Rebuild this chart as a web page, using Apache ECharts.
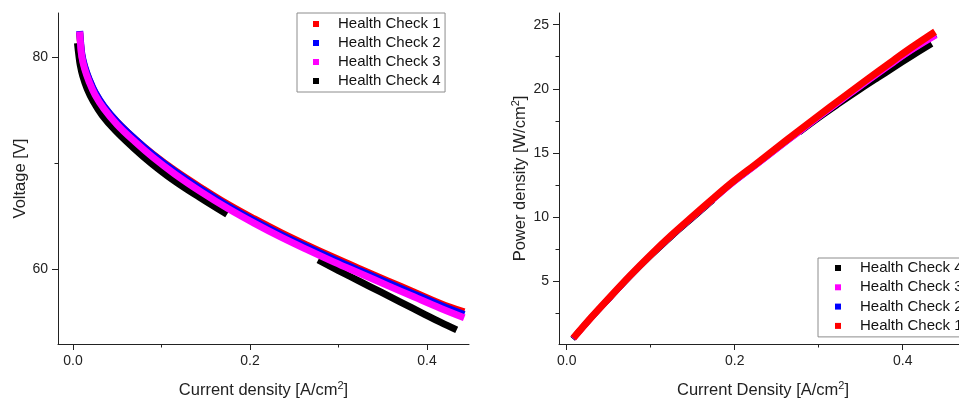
<!DOCTYPE html>
<html>
<head>
<meta charset="utf-8">
<script src="https://cdn.jsdelivr.net/npm/echarts@6/dist/echarts.min.js"></script>
<style>
html,body{margin:0;padding:0;background:#fff;}
#chart{width:959px;height:399px;}
</style>
</head>
<body>
<div id="chart"></div>
<script>
// ---------- Data ----------
var seriesNames = ['Health Check 1', 'Health Check 2', 'Health Check 3', 'Health Check 4'];

// Left panel: Voltage [V] vs current density [A/cm2]
var currentV123 = [0.0075, 0.0085, 0.010, 0.013, 0.018, 0.025, 0.035, 0.050, 0.070, 0.090, 0.115, 0.145, 0.175, 0.205, 0.235, 0.265, 0.295, 0.325, 0.355, 0.385, 0.415, 0.442];
var voltageHC1 = [82.3, 81.2, 80.1, 79.05, 77.9, 76.6, 75.3, 73.85, 72.25, 70.85, 69.3, 67.65, 66.1, 64.72, 63.43, 62.23, 61.08, 59.98, 58.9, 57.83, 56.75, 55.95];
var voltageHC2 = [82.45, 81.4, 80.25, 79.15, 77.95, 76.65, 75.35, 73.85, 72.25, 70.8, 69.2, 67.5, 65.95, 64.55, 63.25, 62.05, 60.9, 59.8, 58.72, 57.65, 56.58, 55.7];
var voltageHC3 = [82.4, 81.2, 80.0, 78.9, 77.7, 76.4, 75.1, 73.6, 72.0, 70.55, 68.95, 67.25, 65.7, 64.3, 63.0, 61.8, 60.65, 59.55, 58.45, 57.37, 56.3, 55.4];
// Health Check 4 has a gap in its data (null marks the break)
var currentV4 = [0.005, 0.0065, 0.008, 0.011, 0.016, 0.023, 0.033, 0.048, 0.068, 0.088, 0.113, 0.143, 0.174, null, 0.277, 0.300, 0.325, 0.347, 0.370, 0.395, 0.415, 0.4335];
var voltageHC4 = [81.3, 80.2, 79.3, 78.2, 77.0, 75.8, 74.5, 73.05, 71.45, 70.0, 68.4, 66.75, 65.15, null, 60.85, 59.85, 58.78, 57.85, 56.88, 55.82, 54.98, 54.25];

// Right panel: Power density [W/cm2] vs current density [A/cm2]
var currentP1 = [0.0079, 0.030, 0.0516, 0.075, 0.0992, 0.125, 0.1508, 0.175, 0.1984, 0.225, 0.250, 0.275, 0.300, 0.325, 0.349, 0.370, 0.389, 0.410, 0.4385];
var powerHC1 = [0.55, 2.22, 3.76, 5.4, 7.0, 8.6, 10.1, 11.48, 12.78, 14.12, 15.4, 16.66, 17.91, 19.14, 20.31, 21.32, 22.22, 23.2, 24.45];
var currentP23 = [0.0079, 0.030, 0.0516, 0.075, 0.0992, 0.125, 0.1508, 0.175, 0.1984, 0.225, 0.250, 0.275, 0.300, 0.325, 0.349, 0.370, 0.389, 0.410, 0.4395];
var powerHC2 = [0.55, 2.21, 3.74, 5.38, 6.97, 8.56, 10.05, 11.42, 12.71, 14.04, 15.31, 16.56, 17.8, 19.02, 20.18, 21.18, 22.06, 23.02, 24.22];
var powerHC3 = [0.52, 2.2, 3.73, 5.37, 6.96, 8.55, 10.04, 11.41, 12.7, 14.03, 15.3, 16.55, 17.78, 19.0, 20.16, 21.15, 22.03, 22.99, 24.17];
var currentP4 = [0.007, 0.030, 0.0516, 0.075, 0.0992, 0.125, 0.1508, 0.174, null, 0.277, 0.300, 0.325, 0.349, 0.370, 0.389, 0.410, 0.4345];
var powerHC4 = [0.5, 2.19, 3.71, 5.34, 6.92, 8.5, 9.98, 11.3, null, 16.6, 17.72, 18.86, 19.92, 20.82, 21.62, 22.5, 23.5];

// Tick values
var xMajorTicks = [0, 0.2, 0.4];
var xMinorTicks = [0.1, 0.3];
var vMajorTicks = [60, 80];
var vMinorTicks = [70];
var pMajorTicks = [5, 10, 15, 20, 25];
var pMinorTicks = [2.5, 7.5, 12.5, 17.5, 22.5];

// ---------- Helpers ----------
function pairs(xs, ys) {
  var out = [];
  for (var i = 0; i < xs.length; i++) {
    out.push(xs[i] === null ? [null, null] : [xs[i], ys[i]]);
  }
  return out;
}
var FONT = 'Liberation Sans, Arial, sans-serif';
var AX = '#222';
var colors = {hc1: '#ff0000', hc2: '#0000ff', hc3: '#ff00ff', hc4: '#000000'};

function mainAxis(gridIndex, pos, min, max, majors, labelFmt, extra) {
  var a = {
    type: 'value', gridIndex: gridIndex, position: pos, min: min, max: max,
    axisLine: {show: true, onZero: false, lineStyle: {color: AX, width: 1}},
    axisTick: {show: true, length: 6, lineStyle: {color: AX, width: 1}, customValues: majors},
    axisLabel: {show: true, customValues: majors, margin: 10, color: AX, fontFamily: FONT, fontSize: 14, formatter: labelFmt},
    splitLine: {show: false}
  };
  for (var k in extra) a[k] = extra[k];
  return a;
}
function minorAxis(gridIndex, pos, min, max, minors) {
  return {
    type: 'value', gridIndex: gridIndex, position: pos, min: min, max: max,
    axisLine: {show: false, onZero: false},
    axisTick: {show: true, length: 3.5, lineStyle: {color: AX, width: 1}, customValues: minors},
    axisLabel: {show: false},
    splitLine: {show: false}
  };
}
var nameRich = {
  a: {fontFamily: FONT, fontSize: 16.5, color: AX, lineHeight: 20},
  s: {fontFamily: FONT, fontSize: 11, color: AX, lineHeight: 12, verticalAlign: 'top'}
};

var lx = [-0.017, 0.4474], ly = [52.92, 84.15];
var rx = [-0.0092, 0.4765], ry = [0.09, 25.91];

function line(name, data, color, xi, yi, z, w) {
  return {
    name: name, type: 'line', xAxisIndex: xi, yAxisIndex: yi, data: data,
    showSymbol: false, smooth: 0.4, connectNulls: false,
    z: z, itemStyle: {color: color},
    lineStyle: {color: color, width: w, cap: 'butt', join: 'round'},
    silent: true
  };
}

function legend(left, top, order, gap, pad) {
  return {
    orient: 'vertical', left: left, top: top, data: order,
    icon: 'rect', itemWidth: 6, itemHeight: 6, itemGap: gap,
    padding: pad, borderColor: '#8c8c8c', borderWidth: 1, backgroundColor: '#fff',
    selectedMode: false,
    textStyle: {fontFamily: FONT, fontSize: 15, color: '#111', lineHeight: 17, padding: [0, 0, 0, 14]}
  };
}

var option = {
  animation: false,
  backgroundColor: '#fff',
  grid: [
    {left: 58, top: 13, width: 411, height: 331, containLabel: false, outerBoundsMode: 'none'},
    {left: 559, top: 13, width: 408, height: 331, containLabel: false, outerBoundsMode: 'none'}
  ],
  xAxis: [
    mainAxis(0, 'bottom', lx[0], lx[1], xMajorTicks, function (v) { return v.toFixed(1); },
      {name: '{a|Current density [A/cm}{s|2}{a|]}', nameLocation: 'middle', nameGap: 36, nameTextStyle: {rich: nameRich}}),
    minorAxis(0, 'bottom', lx[0], lx[1], xMinorTicks),
    mainAxis(1, 'bottom', rx[0], rx[1], xMajorTicks, function (v) { return v.toFixed(1); },
      {name: '{a|Current Density [A/cm}{s|2}{a|]}', nameLocation: 'middle', nameGap: 36, nameTextStyle: {rich: nameRich}}),
    minorAxis(1, 'bottom', rx[0], rx[1], xMinorTicks)
  ],
  yAxis: [
    mainAxis(0, 'left', ly[0], ly[1], vMajorTicks, function (v) { return String(v); },
      {name: '{a|Voltage [V]}', nameLocation: 'middle', nameGap: 28, nameTextStyle: {rich: nameRich}}),
    minorAxis(0, 'left', ly[0], ly[1], vMinorTicks),
    mainAxis(1, 'left', ry[0], ry[1], pMajorTicks, function (v) { return String(v); },
      {name: '{a|Power density [W/cm}{s|2}{a|]}', nameLocation: 'middle', nameGap: 29, nameTextStyle: {rich: nameRich}}),
    minorAxis(1, 'left', ry[0], ry[1], pMinorTicks)
  ],
  legend: [
    legend(297, 13, [seriesNames[0], seriesNames[1], seriesNames[2], seriesNames[3]], 2, [2.5, 4.5, 2.5, 16]),
    legend(818, 258, [seriesNames[3], seriesNames[2], seriesNames[1], seriesNames[0]], 2.3, [1.5, 40, 2.5, 17])
  ],
  series: [
    line(seriesNames[0], pairs(currentV123, voltageHC1), colors.hc1, 0, 0, 2, 7),
    line(seriesNames[1], pairs(currentV123, voltageHC2), colors.hc2, 0, 0, 3, 7),
    line(seriesNames[2], pairs(currentV123, voltageHC3), colors.hc3, 0, 0, 4, 7),
    line(seriesNames[3], pairs(currentV4, voltageHC4), colors.hc4, 0, 0, 1, 7),
    line(seriesNames[0], pairs(currentP1, powerHC1), colors.hc1, 2, 2, 5, 7),
    line(seriesNames[1], pairs(currentP23, powerHC2), colors.hc2, 2, 2, 3, 6),
    line(seriesNames[2], pairs(currentP23, powerHC3), colors.hc3, 2, 2, 4, 6),
    line(seriesNames[3], pairs(currentP4, powerHC4), colors.hc4, 2, 2, 2, 6)
  ]
};

var chart = echarts.init(document.getElementById('chart'), null, {renderer: 'canvas'});
chart.setOption(option);
</script>
</body>
</html>
